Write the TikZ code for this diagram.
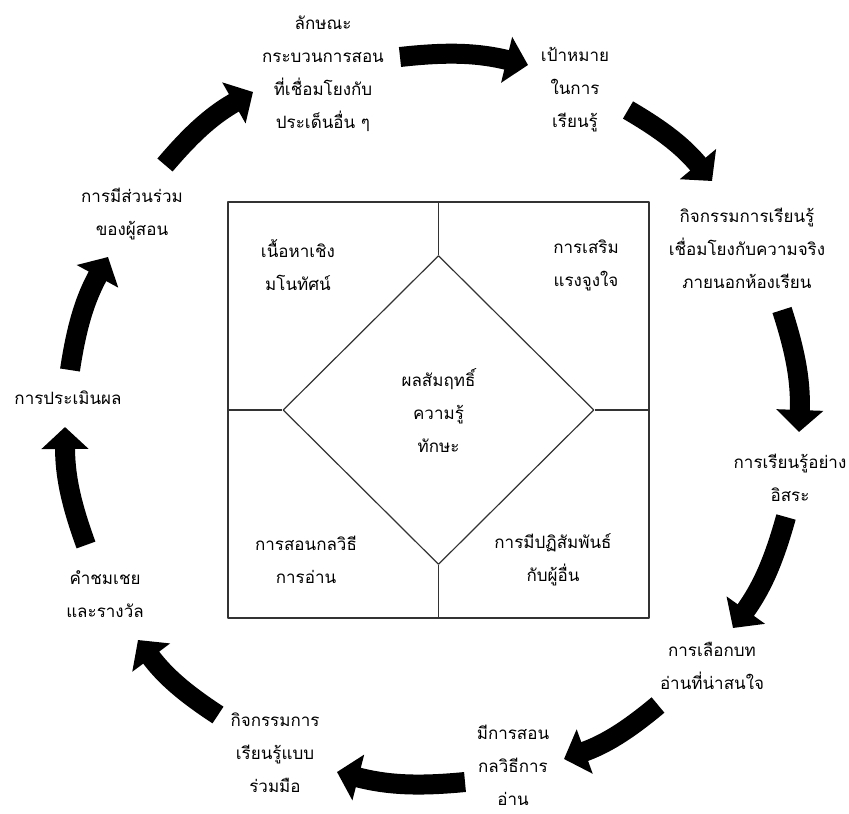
\documentclass[tikz,border=0pt]{standalone}
\usepackage{fontspec}
\setmainfont[Script=Thai]{Loma}
\usetikzlibrary{arrows.meta,shapes.geometric}

\begin{document}
\begin{tikzpicture}[x=1pt,y=-1pt,line join=bevel,
  txt/.style={align=center,inner sep=0pt,font=\fontsize{17}{33}\selectfont},
  flow/.style={line width=20pt,-{Triangle[length=22pt,width=46pt]},bend left=10},
  box/.style={draw=black!80,line width=1.2pt}]
\useasboundingbox (0,0) rectangle (849,814);
%%
  % Node: frame
  \node[box,minimum width=421,minimum height=416] (frame) at (438.5,410) {};
  % Node: achieve
  \node[box,txt,diamond,minimum width=311,minimum height=309] (achieve) at (438.5,410)
    {ผลสัมฤทธิ์\\ความรู้\\ทักษะ};
  % Edge: frame -> achieve
  \draw[box] (frame.north) -- (achieve.north);
  \draw[box] (frame.south) -- (achieve.south);
  \draw[box] (frame.west) -- (achieve.west);
  \draw[box] (frame.east) -- (achieve.east);
  % Node: quadrants
  \node[txt] (concept) at (298,265) {เนื้อหาเชิง\\มโนทัศน์};
  \node[txt] (motive) at (586,265) {การเสริม\\แรงจูงใจ};
  \node[txt] (readstrat) at (306,560) {การสอนกลวิธี\\การอ่าน};
  \node[txt] (interact) at (553,560) {การมีปฏิสัมพันธ์\\กับผู้อื่น};
%%
  % Node: cycle
  \node[txt] (trait) at (323,74) {ลักษณะ\\กระบวนการสอน\\ที่เชื่อมโยงกับ\\ประเด็นอื่น ๆ};
  \node[txt] (goal) at (575,90) {เป้าหมาย\\ในการ\\เรียนรู้};
  \node[txt] (realworld) at (747,248) {กิจกรรมการเรียนรู้\\เชื่อมโยงกับความจริง\\ภายนอกห้องเรียน};
  \node[txt] (freelearn) at (790,478) {การเรียนรู้อย่าง\\อิสระ};
  \node[txt] (choosetext) at (712,666) {การเลือกบท\\อ่านที่น่าสนใจ};
  \node[txt] (strategy) at (513,765) {มีการสอน\\กลวิธีการ\\อ่าน};
  \node[txt] (coop) at (275,753) {กิจกรรมการ\\เรียนรู้แบบ\\ร่วมมือ};
  \node[txt] (praise) at (105,594) {คำชมเชย\\และรางวัล};
  \node[txt] (assess) at (68,398) {การประเมินผล};
  \node[txt] (involve) at (132,214) {การมีส่วนร่วม\\ของผู้สอน};
  % arrow ends
  \coordinate (trait-out) at (400,57);     \coordinate (goal-in) at (528,65);
  \coordinate (goal-out) at (628,110);     \coordinate (realworld-in) at (712,181);
  \coordinate (realworld-out) at (782,310); \coordinate (freelearn-in) at (799,432);
  \coordinate (freelearn-out) at (786,517); \coordinate (choosetext-in) at (733,628);
  \coordinate (choosetext-out) at (658,705); \coordinate (strategy-in) at (564,759);
  \coordinate (strategy-out) at (465,782); \coordinate (coop-in) at (337,772);
  \coordinate (coop-out) at (218,715);     \coordinate (praise-in) at (138,640);
  \coordinate (praise-out) at (86,545);    \coordinate (assess-in) at (65,427);
  \coordinate (assess-out) at (70,370);    \coordinate (involve-in) at (108,257);
  \coordinate (involve-out) at (165,165);  \coordinate (trait-in) at (253,92);
  % Edge: trait -> goal
  \draw[flow] (trait-out) to (goal-in);
  % Edge: goal -> realworld
  \draw[flow] (goal-out) to (realworld-in);
  % Edge: realworld -> freelearn
  \draw[flow] (realworld-out) to (freelearn-in);
  % Edge: freelearn -> choosetext
  \draw[flow] (freelearn-out) to (choosetext-in);
  % Edge: choosetext -> strategy
  \draw[flow] (choosetext-out) to (strategy-in);
  % Edge: strategy -> coop
  \draw[flow] (strategy-out) to (coop-in);
  % Edge: coop -> praise
  \draw[flow] (coop-out) to (praise-in);
  % Edge: praise -> assess
  \draw[flow] (praise-out) to (assess-in);
  % Edge: assess -> involve
  \draw[flow] (assess-out) to (involve-in);
  % Edge: involve -> trait
  \draw[flow] (involve-out) to (trait-in);
%
\end{tikzpicture}
\end{document}
